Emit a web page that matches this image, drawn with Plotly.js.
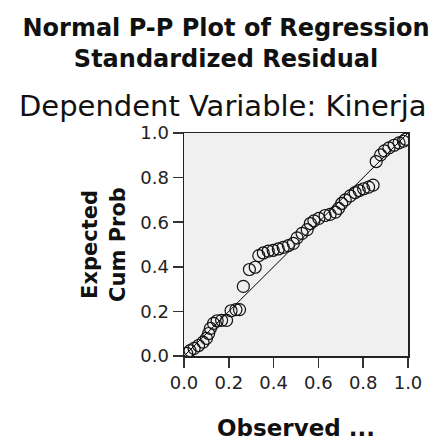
<!DOCTYPE html>
<html>
<head>
<meta charset="utf-8">
<script src="https://cdn.plot.ly/plotly-3.0.1.min.js"></script>
<style>html,body{margin:0;padding:0;background:#fff;}#chart{width:445px;height:444px;}</style>
</head>
<body>
<div id="chart"></div>
<script>
// Observed cumulative probability (x) and expected cumulative probability (y)
const observedCumProb = [0.012,0.027,0.045,0.065,0.085,0.100,0.110,0.118,0.132,0.148,0.168,0.190,0.210,0.232,0.248,0.265,0.292,0.318,0.334,0.354,0.376,0.398,0.421,0.443,0.466,0.488,0.505,0.527,0.550,0.564,0.580,0.602,0.630,0.652,0.676,0.690,0.704,0.720,0.742,0.764,0.782,0.802,0.824,0.844,0.858,0.878,0.895,0.915,0.938,0.960,0.980,0.990];
const expectedCumProb = [0.012,0.024,0.034,0.047,0.062,0.079,0.101,0.124,0.146,0.158,0.160,0.160,0.203,0.208,0.208,0.312,0.388,0.398,0.450,0.462,0.470,0.474,0.480,0.487,0.495,0.505,0.530,0.550,0.567,0.594,0.606,0.617,0.630,0.635,0.645,0.662,0.684,0.700,0.718,0.733,0.742,0.750,0.757,0.766,0.872,0.902,0.920,0.933,0.945,0.956,0.963,0.972];
const refLineX = [0, 1];
const refLineY = [0, 1];
const tickValues = [0, 0.2, 0.4, 0.6, 0.8, 1.0];
const tickLabels = ["0.0", "0.2", "0.4", "0.6", "0.8", "1.0"];
const chartTitle = "Normal P-P Plot of Regression<br>Standardized Residual";
const subTitle = "Dependent Variable: Kinerja";
const xTitle = "Observed ...";
const yTitle = "Expected<br>Cum Prob";

const traces = [
  {
    x: refLineX, y: refLineY, type: 'scatter', mode: 'lines',
    line: {color: '#000', width: 1}, hoverinfo: 'skip', showlegend: false
  },
  {
    x: observedCumProb, y: expectedCumProb, type: 'scatter', mode: 'markers',
    marker: {symbol: 'circle-open', size: 12, color: '#111', line: {width: 1.2, color: '#111'}},
    showlegend: false
  }
];

const axisCommon = {
  range: [0, 1], tickvals: tickValues, ticktext: tickLabels,
  showgrid: false, zeroline: false, showline: true, mirror: true,
  linecolor: '#222', linewidth: 1.5,
  ticks: 'outside', ticklen: 10, tickwidth: 1.5, tickcolor: '#333',
  tickfont: {family: 'DejaVu Sans', size: 18, color: '#222'},
  fixedrange: true
};

const layout = {
  width: 445, height: 444,
  margin: {l: 184, r: 37, t: 133, b: 88, pad: 0},
  paper_bgcolor: '#fff', plot_bgcolor: '#f0f0f0',
  showlegend: false,
  title: {
    text: chartTitle,
    font: {family: 'DejaVu Sans', size: 24, color: '#111', weight: 'bold'},
    xref: 'container', x: 0.508, xanchor: 'center',
    yref: 'container', y: 0.92, yanchor: 'top'
  },
  xaxis: Object.assign({}, axisCommon, {
    title: {text: ''}
  }),
  yaxis: Object.assign({}, axisCommon, {
    title: {text: yTitle, font: {family: 'DejaVu Sans', size: 21, color: '#111', weight: 'bold'}, standoff: 9}
  }),
  annotations: [
    {
      text: subTitle, xref: 'paper', yref: 'paper',
      x: 0.17, y: 1.035, xanchor: 'center', yanchor: 'bottom', showarrow: false,
      font: {family: 'DejaVu Sans', size: 29, color: '#111'}
    },
    {
      text: xTitle, xref: 'paper', yref: 'paper',
      x: 0.5, y: -0.39, xanchor: 'center', yanchor: 'bottom', showarrow: false,
      font: {family: 'DejaVu Sans', size: 23, color: '#111', weight: 'bold'}
    }
  ]
};

Plotly.newPlot('chart', traces, layout, {displayModeBar: false, staticPlot: true});
</script>
</body>
</html>
